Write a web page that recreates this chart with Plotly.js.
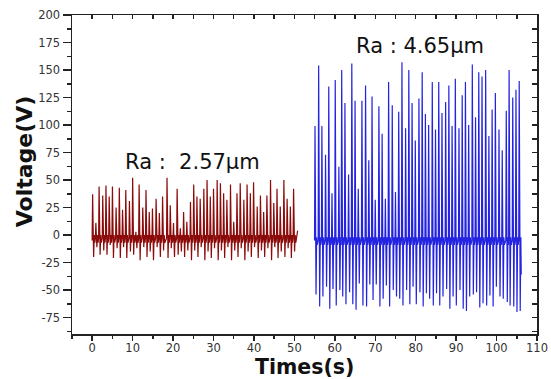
<!DOCTYPE html>
<html>
<head>
<meta charset="utf-8">
<script src="https://cdn.plot.ly/plotly-3.0.1.min.js"></script>
<style>html,body{margin:0;padding:0;background:#fff;}#chart{width:551px;height:379px;}</style>
</head>
<body>
<div id="chart"></div>
<script>
// ---- Data ----
// Ra 2.57 µm (dark red) : spike times (s), peak and trough voltages (V)
const redTimes = [0.1,0.9,1.7,2.6,3.4,4.2,5.0,5.9,6.7,7.5,8.3,9.2,10.0,10.8,11.6,12.5,13.3,14.1,14.9,15.8,16.6,17.4,18.5,19.3,20.1,21.0,21.8,22.6,23.4,24.3,25.1,25.9,26.7,27.6,28.4,29.2,30.0,30.9,31.7,32.5,33.3,34.2,35.0,35.8,36.6,37.5,38.3,39.1,39.9,40.8,41.6,42.4,43.2,44.1,44.9,45.7,46.5,47.4,48.2,49.0,49.8];
const redPeaks = [37,11,44,36,45,35,44,25,43,23,41,31,52,3,46,25,41,21,24,33,20,35,52,27,11,42,6,21,12,30,46,35,33,42,50,35,42,50,47,38,32,46,12,38,47,32,46,38,48,26,36,21,36,50,29,42,26,50,33,26,42];
const redTroughs = [-20,-11,-18,-14,-18,-9,-21,-12,-21,-11,-21,-15,-18,-12,-23,-11,-20,-15,-23,-11,-20,-14,-21,-12,-20,-18,-15,-20,-14,-23,-14,-20,-11,-23,-15,-21,-12,-23,-14,-21,-11,-23,-14,-20,-12,-23,-15,-20,-11,-21,-14,-20,-12,-23,-11,-21,-15,-20,-12,-21,-15];
const redBase = -3;
const redRipple = [3, -4];
const redStart = [0.0, -5];
const redEnd = [50.8, 4];

// Ra 4.65 µm (blue)
const blueTimes = [55.1,56.0,56.8,57.7,58.5,59.3,60.1,61.0,61.7,62.5,63.4,64.2,65.0,65.8,66.7,67.6,68.4,69.2,70.0,70.9,71.7,72.5,73.3,74.2,75.0,75.8,76.6,77.5,78.3,79.1,79.9,80.8,81.6,82.4,83.2,84.1,84.9,85.7,86.5,87.4,88.2,89.0,89.8,90.7,91.5,92.3,93.1,94.0,94.8,95.6,96.4,97.3,98.1,98.9,99.7,100.6,101.4,102.4,103.1,104.0,104.8,105.6];
const bluePeaks = [99,154,99,73,135,38,141,62,150,120,55,156,122,42,122,136,68,126,32,117,92,33,139,118,39,112,157,97,150,120,86,124,148,110,100,139,96,139,111,121,136,99,142,97,127,139,100,155,107,148,144,150,90,114,129,96,77,113,150,125,132,140];
const blueTroughs = [-54,-65,-56,-47,-67,-49,-64,-50,-56,-63,-52,-63,-68,-44,-64,-65,-45,-59,-45,-65,-58,-46,-65,-50,-56,-58,-64,-50,-63,-47,-63,-52,-65,-53,-58,-64,-53,-64,-56,-49,-67,-56,-64,-50,-67,-69,-56,-54,-52,-66,-62,-64,-55,-65,-47,-56,-58,-61,-64,-65,-70,-69];
const blueBase = -5;
const blueRipple = [3, -4];
const blueStart = [55.0, 0];
const blueEnd = [106.1, -36];

const labels = ['Ra :\u00A0\u00A02.57\u03BCm', 'Ra : 4.65\u03BCm'];
const labelX = [24.8, 81.1];
const labelY = [66, 172];

const xTitle = 'Times(s)';
const yTitle = 'Voltage(V)';

const yTickVals = [-75,-50,-25,0,25,50,75,100,125,150,175,200];
const yTickText = ['-75','-50','-25','0','25','50','75','100','125','150','175','200'];
const xTickVals = [0,10,20,30,40,50,60,70,80,90,100,110];
const xTickText = ['0','10','20','30','40','50','60','70','80','90','100','110'];

// ---- Build line from spike data ----
function build(times, peaks, troughs, base, ripple, start, end) {
  const x = [start[0]], y = [start[1]];
  for (let i = 0; i < times.length; i++) {
    const t = times[i];
    x.push(t - 0.12, t, t + 0.25, t + 0.4, t + 0.55);
    y.push(base, peaks[i], troughs[i], base + ripple[0], base + ripple[1]);
  }
  x.push(end[0]); y.push(end[1]);
  return {x, y};
}
const red = build(redTimes, redPeaks, redTroughs, redBase, redRipple, redStart, redEnd);
const blue = build(blueTimes, bluePeaks, blueTroughs, blueBase, blueRipple, blueStart, blueEnd);

const tickFont = {family: 'DejaVu Sans, Arial, sans-serif', size: 11.5, color: '#333'};
const axisColor = '#222';

const traces = [
  {x: red.x, y: red.y, type: 'scatter', mode: 'lines', line: {color: '#8B0A0A', width: 1.2}, name: 'Ra 2.57', showlegend: false, hoverinfo: 'skip'},
  {x: blue.x, y: blue.y, type: 'scatter', mode: 'lines', line: {color: '#2424E0', width: 1.2}, name: 'Ra 4.65', showlegend: false, hoverinfo: 'skip'},
  {x: [], y: [], xaxis: 'x2', yaxis: 'y2', type: 'scatter', mode: 'lines', showlegend: false, hoverinfo: 'skip'}
];

const annotations = labels.map((t, i) => ({
  text: t, x: labelX[i], y: labelY[i], xref: 'x', yref: 'y', showarrow: false,
  font: {family: 'DejaVu Sans, Arial, sans-serif', size: 21, color: '#111'}
}));
// axis titles placed as annotations for exact position
annotations.push({
  text: '<b>' + xTitle + '</b>', xref: 'paper', yref: 'paper', x: 0.5, y: -0.1435,
  xanchor: 'center', yanchor: 'bottom', showarrow: false, borderpad: 0,
  font: {family: 'DejaVu Sans, Arial, sans-serif', size: 20.5, color: '#111'}
});
annotations.push({
  text: '<b>' + yTitle + '</b>', xref: 'paper', yref: 'paper', x: -0.102, y: 0.54,
  xanchor: 'center', yanchor: 'middle', textangle: -90, showarrow: false,
  font: {family: 'DejaVu Sans, Arial, sans-serif', size: 22, color: '#111'}
});

const layout = {
  width: 551, height: 379,
  margin: {l: 72, r: 14, t: 15, b: 45, pad: 0},
  paper_bgcolor: '#fff', plot_bgcolor: '#fff',
  showlegend: false,
  xaxis: {
    range: [-5, 110], tickmode: 'array', tickvals: xTickVals, ticktext: xTickText,
    ticks: 'outside', ticklen: 5, tickwidth: 1.5, tickcolor: axisColor, ticklabelstandoff: -2,
    minor: {tickmode: 'linear', tick0: 0, dtick: 5, ticks: 'outside', ticklen: 3, tickwidth: 1.5, tickcolor: axisColor},
    showline: true, linewidth: 1.5, linecolor: axisColor,
    showgrid: false, zeroline: false, tickfont: tickFont, automargin: false
  },
  yaxis: {
    range: [-90, 200], tickmode: 'array', tickvals: yTickVals, ticktext: yTickText,
    ticks: 'outside', ticklen: 8, tickwidth: 1.5, tickcolor: axisColor,
    minor: {tickmode: 'linear', tick0: 0, dtick: 12.5, ticks: 'outside', ticklen: 4, tickwidth: 1.5, tickcolor: axisColor},
    showline: true, linewidth: 1.5, linecolor: axisColor,
    showgrid: false, zeroline: false, tickfont: tickFont, automargin: false
  },
  xaxis2: {
    overlaying: 'x', side: 'top', anchor: 'y', range: [-5, 110],
    tickmode: 'linear', tick0: 0, dtick: 5, ticks: 'inside', ticklen: 4, tickwidth: 1.5, tickcolor: axisColor,
    showticklabels: false, showline: true, linewidth: 1.5, linecolor: axisColor,
    showgrid: false, zeroline: false
  },
  yaxis2: {
    overlaying: 'y', side: 'right', anchor: 'x', range: [-90, 200],
    tickmode: 'linear', tick0: 0, dtick: 12.5, ticks: 'inside', ticklen: 5, tickwidth: 1.5, tickcolor: axisColor,
    showticklabels: false, showline: true, linewidth: 1.5, linecolor: axisColor,
    showgrid: false, zeroline: false
  },
  annotations: annotations
};

Plotly.newPlot('chart', traces, layout, {displayModeBar: false, staticPlot: true});
</script>
</body>
</html>
